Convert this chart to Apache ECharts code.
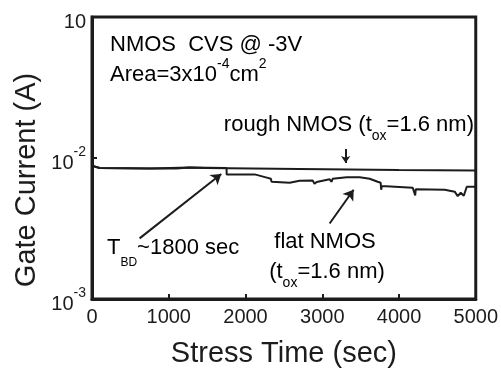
<!DOCTYPE html>
<html>
<head>
<meta charset="utf-8">
<script src="https://cdn.jsdelivr.net/npm/echarts@6/dist/echarts.min.js"></script>
<style>
  html, body { margin: 0; padding: 0; background: #fff; }
  #chart { width: 501px; height: 373px; }
</style>
</head>
<body>
<div id="chart"></div>
<script>
// Gate current under constant-voltage stress (NMOS, -3 V)
const xTicks = [0, 1000, 2000, 3000, 4000, 5000];

// rough-interface device: stays intact over the whole stress
const timeRough = [0, 100, 750, 1100, 1270, 1470, 2700, 4000, 5000];
const currentRough = [8.8e-3, 8.5e-3, 8.43e-3, 8.43e-3, 8.57e-3, 8.5e-3, 8.36e-3, 8.23e-3, 8.16e-3];

// flat-interface device: soft breakdown near 1800 s, then noisy steps
const timeFlat = [0, 100, 750, 1270, 1753, 1755, 2120, 2290, 2330, 2340,
  2355, 2575, 2705, 2875, 2900, 2927, 3096, 3122, 3135, 3318,
  3488, 3618, 3722, 3761, 3768, 3775, 4179, 4205, 4211, 4218,
  4596, 4726, 4765, 4804, 4844, 4870, 4883, 5000];
const currentFlat = [8.8e-3, 8.5e-3, 8.43e-3, 8.57e-3, 8.5e-3, 7.65e-3, 7.65e-3, 7.23e-3, 7.12e-3, 6.78e-3,
  6.72e-3, 6.67e-3, 6.89e-3, 6.92e-3, 6.56e-3, 6.75e-3, 7.06e-3, 6.78e-3, 7.12e-3, 7.29e-3,
  7.29e-3, 7.12e-3, 6.78e-3, 6.67e-3, 5.95e-3, 6.32e-3, 6.15e-3, 6.15e-3, 5.43e-3, 6.00e-3,
  5.95e-3, 5.77e-3, 5.36e-3, 5.67e-3, 5.40e-3, 5.49e-3, 6.25e-3, 6.25e-3];

// annotation arrows, [time, current] from tail to head
const arrowTBD = [[620, 2.69e-3], [1684, 7.71e-3]];
const arrowFlat = [[3096, 3.43e-3], [3409, 5.95e-3]];
const arrowRough = [[3305, 1.16e-2], [3305, 9.22e-3]];

const INK = '#1c1c1c';
const FONT = '"Liberation Sans", Arial, Helvetica, sans-serif';

const pairs = (xs, ys) => xs.map((x, i) => [x, ys[i]]);
const arrow = (a, size) => [{ coord: a[0], symbol: 'none' }, { coord: a[1], symbol: 'arrow', symbolSize: size }];

// rich-text note; the line height sets how far super/subscripts sit from the main text
function note(text, x, y, align, lh, subSize) {
  return {
    type: 'text', silent: true,
    style: {
      text: text, x: x, y: y, align: align || 'left', verticalAlign: 'middle',
      rich: {
        m: { fontSize: 22, fontFamily: FONT, color: INK, lineHeight: lh },
        sup: { fontSize: 14, fontFamily: FONT, color: INK, lineHeight: 2, verticalAlign: 'top' },
        sub: { fontSize: subSize || 14, fontFamily: FONT, color: INK, lineHeight: 2, verticalAlign: 'bottom' }
      }
    }
  };
}

const chart = echarts.init(document.getElementById('chart'), null, { renderer: 'canvas' });
chart.setOption({
  animation: false,
  backgroundColor: '#fff',
  grid: { left: 92, right: 25, top: 17, bottom: 72, show: true, borderColor: INK, borderWidth: 3 },
  xAxis: {
    type: 'value', min: xTicks[0], max: xTicks[xTicks.length - 1], interval: 1000,
    name: 'Stress Time (sec)', nameLocation: 'middle', nameGap: 40,
    nameTextStyle: { fontSize: 29, fontFamily: FONT, color: INK },
    axisLine: { show: true, lineStyle: { color: INK, width: 3 } },
    axisTick: { show: true, inside: true, length: 5, lineStyle: { color: INK, width: 2 } },
    axisLabel: { fontSize: 20, fontFamily: FONT, color: INK, margin: 8, formatter: v => String(v) },
    splitLine: { show: false }
  },
  yAxis: {
    type: 'log', logBase: 10, min: 1e-3, max: 1e-1,
    axisLine: { show: true, lineStyle: { color: INK, width: 3 } },
    axisTick: { show: true, inside: true, length: 5, lineStyle: { color: INK, width: 2 } },
    minorTick: { show: false },
    splitLine: { show: false },
    axisLabel: {
      margin: 6,
      formatter: function (v) {
        const e = Math.round(Math.log10(v));
        return e === -1 ? '{b|10}' : '{b|10}{s|' + e + '}';
      },
      rich: {
        b: { fontSize: 20, fontFamily: FONT, color: INK, lineHeight: 36, padding: [10, 0, 0, 0] },
        s: { fontSize: 14, fontFamily: FONT, color: INK, lineHeight: 2, verticalAlign: 'top', padding: [5, 0, 0, 0] }
      }
    }
  },
  graphic: [
    {
      type: 'text', silent: true, rotation: Math.PI / 2, x: 27, y: 180,
      style: { text: 'Gate Current (A)', font: '29px ' + FONT, fill: INK, align: 'center', verticalAlign: 'middle' }
    },
    note('{m|NMOS  CVS @ -3V}', 110, 45, 'left', 26),
    note('{m|Area=3x10}{sup|-4}{m|cm}{sup|2}', 110, 75, 'left', 36),
    note('{m|rough NMOS (t}{sub|ox}{m|=1.6 nm)}', 474, 125, 'right', 36),
    note('{m|T}{sub|BD}{m|~1800 sec}', 107, 248, 'left', 42, 12),
    note('{m|flat NMOS}', 325, 242, 'center', 26),
    note('{m|(t}{sub|ox}{m|=1.6 nm)}', 327, 272, 'center', 36)
  ],
  series: [
    {
      name: 'rough NMOS', type: 'line', showSymbol: false, silent: true,
      data: pairs(timeRough, currentRough),
      lineStyle: { color: INK, width: 2 }
    },
    {
      name: 'flat NMOS', type: 'line', showSymbol: false, silent: true,
      data: pairs(timeFlat, currentFlat),
      lineStyle: { color: INK, width: 2 },
      markLine: {
        silent: true, animation: false,
        label: { show: false },
        lineStyle: { color: INK, width: 2, type: 'solid' },
        data: [arrow(arrowTBD, 10), arrow(arrowFlat, 10), arrow(arrowRough, 7)]
      }
    }
  ]
});
</script>
</body>
</html>
